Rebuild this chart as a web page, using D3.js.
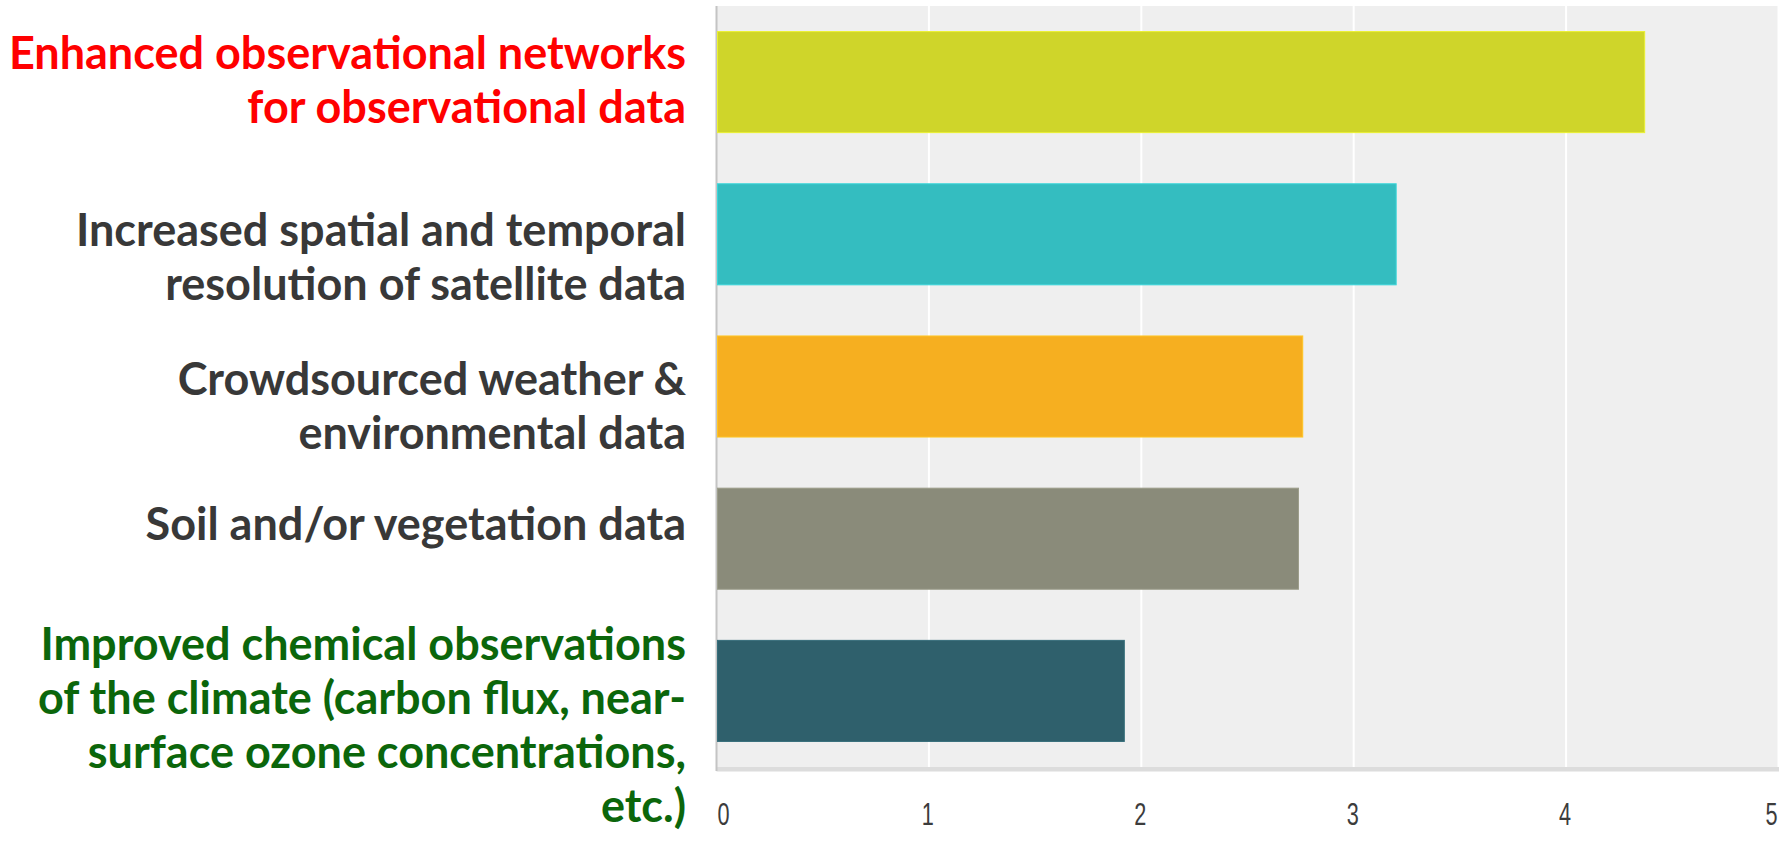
<!DOCTYPE html>
<html>
<head>
<meta charset="utf-8">
<script src="https://cdn.jsdelivr.net/npm/d3@7"></script>
<style>
  html, body { margin: 0; padding: 0; background: #ffffff; }
  svg { display: block; }
</style>
</head>
<body>
<svg id="chart" width="1779" height="843"></svg>
<script>
// Survey priorities: average rating per data improvement (0–5 scale)
const categories = [
  "Enhanced observational networks\nfor observational data",
  "Increased spatial and temporal\nresolution of satellite data",
  "Crowdsourced weather &\nenvironmental data",
  "Soil and/or vegetation data",
  "Improved chemical observations\nof the climate (carbon flux, near-\nsurface ozone concentrations,\netc.)"
];
const values = [4.37, 3.20, 2.76, 2.74, 1.92];
const tickValues = [0, 1, 2, 3, 4, 5];

const barColors = ["#cfd52a", "#34bdc0", "#f6af20", "#8a8b7a", "#2f606c"];
const labelColors = ["#ff0000", "#383838", "#383838", "#383838", "#0b660b"];
// vertical nudge of each label block relative to its bar centre
const labelShift = [-2, 22, 19, -15, 34];

const W = 1779, H = 843;
const plot = { left: 716.5, right: 1778.5, top: 6, bottom: 767 };

const svg = d3.select("#chart");

const x = d3.scaleLinear().domain([0, 5]).range([plot.left, plot.right]);
const y = d3.scaleBand()
  .domain(d3.range(categories.length))
  .range([plot.top, plot.bottom])
  .paddingInner(0.336)
  .paddingOuter(0.168);

// plot background
svg.append("rect")
  .attr("x", plot.left).attr("y", plot.top)
  .attr("width", W - plot.left).attr("height", plot.bottom - plot.top)
  .attr("fill", "#efefef");

// bottom shadow band
svg.append("rect")
  .attr("x", plot.left).attr("y", plot.bottom)
  .attr("width", W - plot.left).attr("height", 4.5)
  .attr("fill", "#dcdcdc");

// vertical grid lines
svg.append("g")
  .selectAll("line")
  .data(tickValues.filter(d => d > 0))
  .join("line")
  .attr("x1", d => x(d)).attr("x2", d => x(d))
  .attr("y1", plot.top).attr("y2", plot.bottom)
  .attr("stroke", "#ffffff")
  .attr("stroke-width", 2);

// left axis line
svg.append("line")
  .attr("x1", plot.left).attr("x2", plot.left)
  .attr("y1", plot.top).attr("y2", plot.bottom + 4)
  .attr("stroke", "#c4c4c4")
  .attr("stroke-width", 2);

// bars
svg.append("g")
  .selectAll("rect")
  .data(values)
  .join("rect")
  .attr("x", x(0) + 1)
  .attr("y", (d, i) => y(i))
  .attr("width", d => x(d) - x(0) - 1)
  .attr("height", y.bandwidth())
  .attr("fill", (d, i) => barColors[i])
  .attr("stroke", (d, i) => d3.color(barColors[i]).brighter(0.35))
  .attr("stroke-width", 1);

// x axis
const xAxis = d3.axisBottom(x)
  .tickValues(tickValues)
  .tickSize(0)
  .tickPadding(36)
  .tickFormat(d3.format("d"));

const gx = svg.append("g")
  .attr("transform", `translate(0,${plot.bottom})`)
  .call(xAxis);
gx.select(".domain").remove();
// narrow digits: keep each label inside the plot, then squeeze horizontally
gx.selectAll("text")
  .attr("x", null)
  .attr("transform", d => {
    const px = Math.max(plot.left + 6.5, Math.min(plot.right - 7.5, x(d) - 1.5));
    return `translate(${px - x(d)},0) scale(0.7,1)`;
  })
  .attr("fill", "#3c3c3c")
  .style("font-family", "'Liberation Sans', Arial, sans-serif")
  .style("font-size", "31px");

// category labels, right-aligned against the plot
const lineH = 54;
const labels = svg.append("g")
  .attr("text-anchor", "end")
  .style("font-family", "Lato, 'Open Sans', sans-serif")
  .style("font-weight", 700)
  .style("font-size", "45px");

categories.forEach((c, i) => {
  const lines = c.split("\n");
  const cy = y(i) + y.bandwidth() / 2 + labelShift[i];
  const t = labels.append("text")
    .attr("fill", labelColors[i]);
  lines.forEach((ln, j) => {
    t.append("tspan")
      .attr("x", 686)
      .attr("y", cy + (j - (lines.length - 1) / 2) * lineH)
      .attr("dy", "0.36em")
      .text(ln);
  });
});
</script>
</body>
</html>
